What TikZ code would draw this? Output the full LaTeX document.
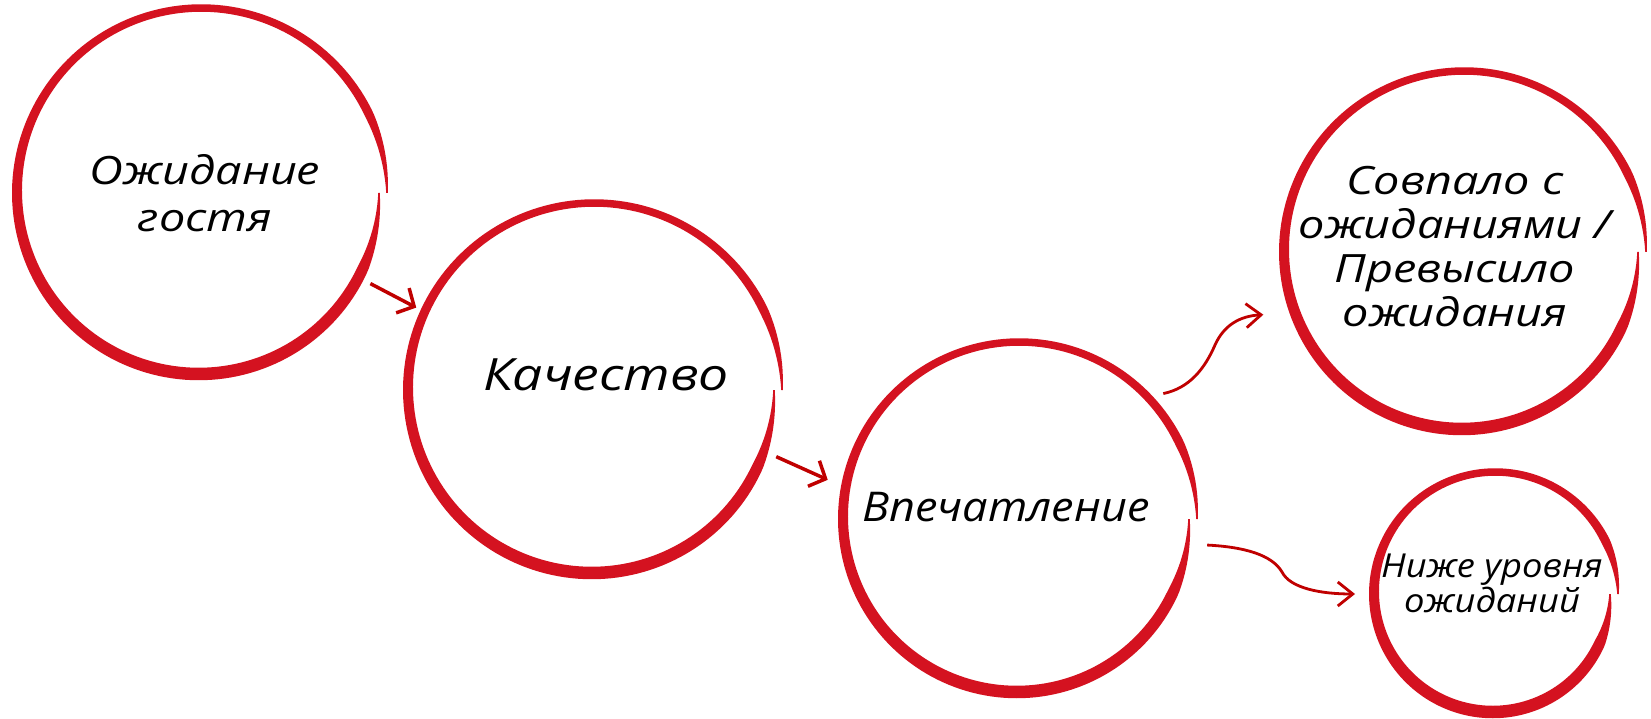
\documentclass[tikz,border=0pt]{standalone}
\usepackage{fontspec}
\newfontfamily\handwide{Open Sans}[FakeStretch=1.2]
\newfontfamily\handnarrow{Open Sans}[FakeStretch=1.1]
\usetikzlibrary{arrows.meta}
\definecolor{ringred}{RGB}{212,18,32}
\definecolor{arrred}{RGB}{192,0,0}
\newcommand\brushring[3]{%
 \fill[ringred] plot[domain=0:360,samples=180,variable=\t]
   ({#1+(ringR(\t,#3)+ringW(\t)/2)*cos(\t)},{#2+(ringR(\t,#3)+ringW(\t)/2)*sin(\t)})
 -- plot[domain=360:0,samples=180,variable=\t]
   ({#1+(ringR(\t,#3)-ringW(\t)/2)*cos(\t)},{#2+(ringR(\t,#3)-ringW(\t)/2)*sin(\t)}) -- cycle;}
\begin{document}
\begin{tikzpicture}[x=1pt,y=-1pt,
  declare function={ringR(\t,\r)=\r+4*(\t-180)/180; ringW(\t)=(8.5+2.5*sin(\t))*min(1,\t/25,(360-\t)/25)+1.5;},
  ringnode/.style={circle,inner sep=0pt,outer sep=0pt,minimum size=#1},
  txt/.style={align=center,text=black},
  bigarrow/.style={draw=arrred,line width=3.5pt,-{Straight Barb[length=13pt,width=28pt]}},
  thinarrow/.style={draw=arrred,line width=2.8pt,-{Straight Barb[length=15pt,width=24pt]}}]
\useasboundingbox (0,0) rectangle (1651,719);
\fill[white] (0,0) rectangle (1651,719);
% rings
\node[ringnode=386pt] (c1) at (200,193) {};
\node[ringnode=390pt] (c2) at (593,390) {};
\node[ringnode=370pt] (c3) at (1018,519) {};
\node[ringnode=378pt] (c4) at (1463,252) {};
\node[ringnode=260pt] (c5) at (1494,594) {};
\brushring{200}{193}{183}
\brushring{593}{390}{185}
\brushring{1018}{519}{175}
\brushring{1463}{252}{179}
\brushring{1494}{594}{120}
% texts
\node[txt,font=\handwide\itshape\fontsize{39}{47}\selectfont] (t1) at (205,193) {Ожидание\\гостя};
\node[txt,font=\handwide\itshape\fontsize{44.5}{54}\selectfont] (t2) at (606,375) {Качество};
\node[txt,font=\handnarrow\itshape\fontsize{41}{50}\selectfont] (t3) at (1006,507) {Впечатление};
\node[txt,font=\handwide\itshape\fontsize{39}{44}\selectfont] (t4) at (1455,247) {Совпало с\\ожиданиями /\\Превысило\\ожидания};
\node[txt,font=\handnarrow\itshape\fontsize{33}{35}\selectfont] (t5) at (1492,583) {Ниже уровня\\ожиданий};
% connectors
\draw[bigarrow] (c1.-28) -- (c2.155);
\draw[bigarrow,shorten >=9.5pt] (c2.-20) -- (c3.169);
\draw[thinarrow,shorten <=8pt,shorten >=21pt] (c3.42) .. controls (1190,388) and (1205,368) .. (1215,345)
   .. controls (1224,325) and (1240,316) .. (c4.199);
\draw[thinarrow,shorten <=6pt,shorten >=9pt] (c3.-8.4) .. controls (1245,547) and (1272,555) .. (1282,572)
   .. controls (1290,588) and (1320,594) .. (c5.180);
\end{tikzpicture}
\end{document}
